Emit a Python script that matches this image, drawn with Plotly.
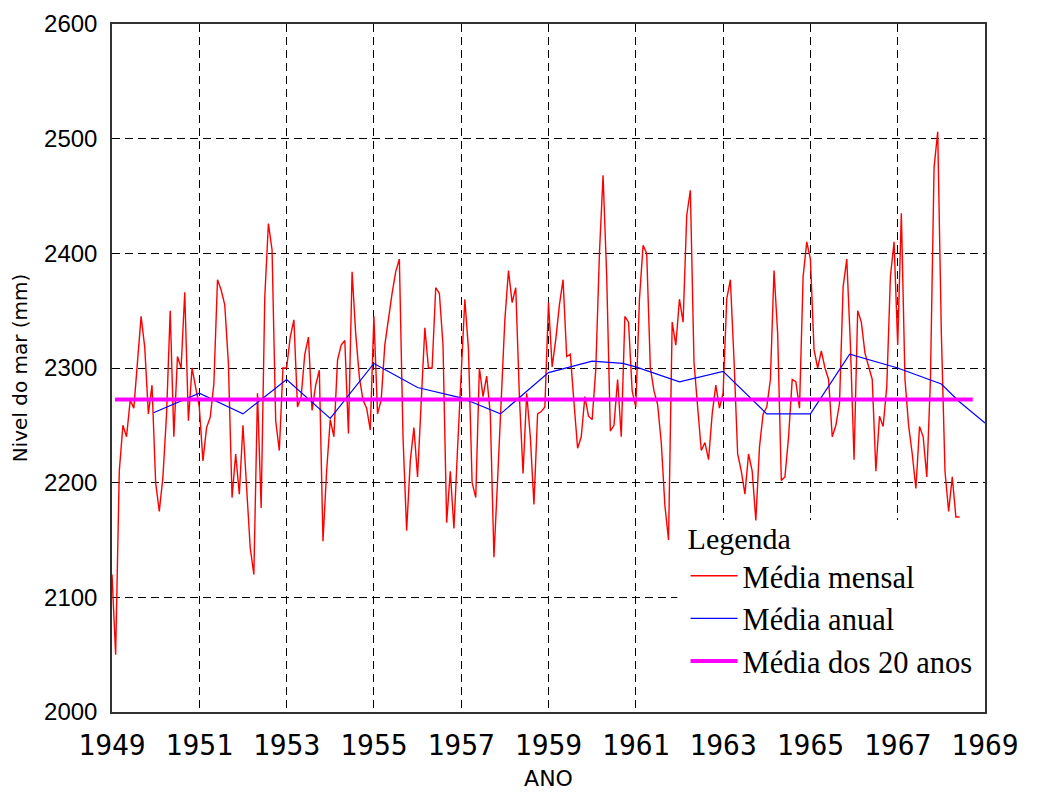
import plotly.graph_objects as go

# ---------------- data ----------------
start_year = 1949
# monthly mean sea level (mm), Jan 1949 onward
mensal_1949 = [2120, 2050, 2210, 2250, 2240, 2272, 2265, 2304, 2345, 2318, 2260, 2285]
mensal_1950 = [2200, 2175, 2205, 2260, 2350, 2240, 2310, 2300, 2366, 2254, 2300, 2283]
mensal_1951 = [2266, 2219, 2248, 2257, 2286, 2377, 2368, 2355, 2304, 2187, 2225, 2190]
mensal_1952 = [2250, 2196, 2143, 2120, 2278, 2178, 2362, 2426, 2403, 2254, 2228, 2300]
mensal_1953 = [2300, 2327, 2342, 2266, 2275, 2312, 2327, 2263, 2285, 2298, 2149, 2210]
mensal_1954 = [2255, 2240, 2307, 2320, 2324, 2243, 2384, 2330, 2292, 2272, 2265, 2246]
mensal_1955 = [2345, 2260, 2272, 2320, 2345, 2365, 2384, 2395, 2240, 2158, 2219, 2248]
mensal_1956 = [2205, 2275, 2335, 2300, 2300, 2370, 2365, 2320, 2165, 2210, 2160, 2230]
mensal_1957 = [2300, 2360, 2316, 2200, 2187, 2300, 2275, 2293, 2260, 2135, 2202, 2270]
mensal_1958 = [2342, 2385, 2357, 2370, 2275, 2208, 2278, 2240, 2181, 2260, 2262, 2266]
mensal_1959 = [2357, 2301, 2325, 2355, 2377, 2310, 2312, 2270, 2230, 2240, 2275, 2258]
mensal_1960 = [2255, 2299, 2400, 2468, 2380, 2245, 2250, 2290, 2240, 2345, 2340, 2280]
mensal_1961 = [2266, 2360, 2407, 2400, 2300, 2280, 2268, 2235, 2180, 2150, 2340, 2320]
mensal_1962 = [2360, 2340, 2433, 2455, 2305, 2266, 2228, 2235, 2220, 2260, 2285, 2265]
mensal_1963 = [2278, 2360, 2377, 2307, 2225, 2210, 2190, 2225, 2210, 2167, 2231, 2260]
mensal_1964 = [2266, 2290, 2385, 2330, 2202, 2205, 2240, 2290, 2288, 2265, 2380, 2410]
mensal_1965 = [2395, 2316, 2300, 2315, 2300, 2290, 2240, 2250, 2269, 2371, 2395, 2320]
mensal_1966 = [2220, 2350, 2340, 2313, 2301, 2290, 2210, 2258, 2249, 2284, 2380, 2410]
mensal_1967 = [2320, 2435, 2290, 2250, 2225, 2195, 2249, 2240, 2205, 2290, 2475, 2506]
mensal_1968 = [2330, 2210, 2175, 2205, 2170, 2170]

mensal = (mensal_1949 + mensal_1950 + mensal_1951 + mensal_1952 + mensal_1953 +
          mensal_1954 + mensal_1955 + mensal_1956 + mensal_1957 + mensal_1958 +
          mensal_1959 + mensal_1960 + mensal_1961 + mensal_1962 + mensal_1963 +
          mensal_1964 + mensal_1965 + mensal_1966 + mensal_1967 + mensal_1968)
mensal_x = [start_year + i / 12 for i in range(len(mensal))]

anual_x = [1949.95, 1951.0, 1952.0, 1953.0, 1954.0, 1955.0, 1956.0, 1957.0, 1957.9,
           1959.0, 1960.0, 1960.7, 1961.0, 1962.0, 1963.0, 1964.0, 1965.0, 1965.9,
           1967.0, 1968.0, 1968.4, 1969.0]
anual_y = [2261, 2278, 2260, 2290, 2256, 2304, 2283, 2274, 2260,
           2296, 2306, 2304, 2301, 2288, 2297, 2260, 2260, 2312,
           2300, 2286, 2271, 2252]

media20_x = [1949.07, 1968.72]
media20_value = 2272.5

x_ticks = [1949, 1951, 1953, 1955, 1957, 1959, 1961, 1963, 1965, 1967, 1969]
y_ticks = [2000, 2100, 2200, 2300, 2400, 2500, 2600]

# ---------------- figure ----------------
fig = go.Figure()
fig.add_trace(go.Scatter(x=mensal_x, y=mensal, mode="lines", name="Média mensal",
                         line=dict(color="#ff0000", width=1.4)))
fig.add_trace(go.Scatter(x=anual_x, y=anual_y, mode="lines", name="Média anual",
                         line=dict(color="#0000ff", width=1.2)))
fig.add_trace(go.Scatter(x=media20_x, y=[media20_value] * len(media20_x), mode="lines",
                         name="Média dos 20 anos",
                         line=dict(color="#ff00ff", width=4)))

# white area behind the legend (covers the grid only)
fig.add_shape(type="rect", xref="x", yref="y", x0=1961.95, x1=1969, y0=2000, y1=2167.5,
              fillcolor="white", line=dict(width=0), layer="between")

fig.update_layout(
    width=1024, height=784,
    margin=dict(l=104, r=47, t=16, b=80),
    paper_bgcolor="white", plot_bgcolor="white",
    showlegend=True,
    legend=dict(
        title=dict(text="Legenda", font=dict(family="Liberation Serif", size=30, color="black")),
        font=dict(family="Liberation Serif", size=30.5, color="black"),
        x=0.657, y=0.293, xanchor="left", yanchor="top",
        bgcolor="rgba(255,255,255,0)", borderwidth=0, itemwidth=47,
        tracegroupgap=0,
    ),
)

fig.update_xaxes(
    range=[1949, 1969], tickmode="array", tickvals=x_ticks,
    ticktext=[str(t) for t in x_ticks],
    tickfont=dict(family="DejaVu Sans Mono", size=28, color="black"),
    showgrid=True, gridcolor="black", gridwidth=1, griddash="8px,5px",
    showline=True, linecolor="#333333", linewidth=1.5, mirror=True,
    ticks="", zeroline=False, ticklabelstandoff=8, automargin=False,
    title=dict(text="ANO", font=dict(family="DejaVu Sans", size=22, color="black"), standoff=9),
)
fig.update_yaxes(
    range=[2000, 2600], tickmode="array", tickvals=y_ticks,
    ticktext=[str(t) for t in y_ticks],
    tickfont=dict(family="Liberation Sans", size=24, color="black"),
    showgrid=True, gridcolor="black", gridwidth=1, griddash="8px,5px",
    showline=True, linecolor="#333333", linewidth=1.5, mirror=True,
    ticks="", zeroline=False, ticklabelstandoff=8, automargin=False,
    title=dict(text="Nivel do mar (mm)", font=dict(family="DejaVu Sans", size=20, color="black"), standoff=14),
)

fig.write_html("out.html")
